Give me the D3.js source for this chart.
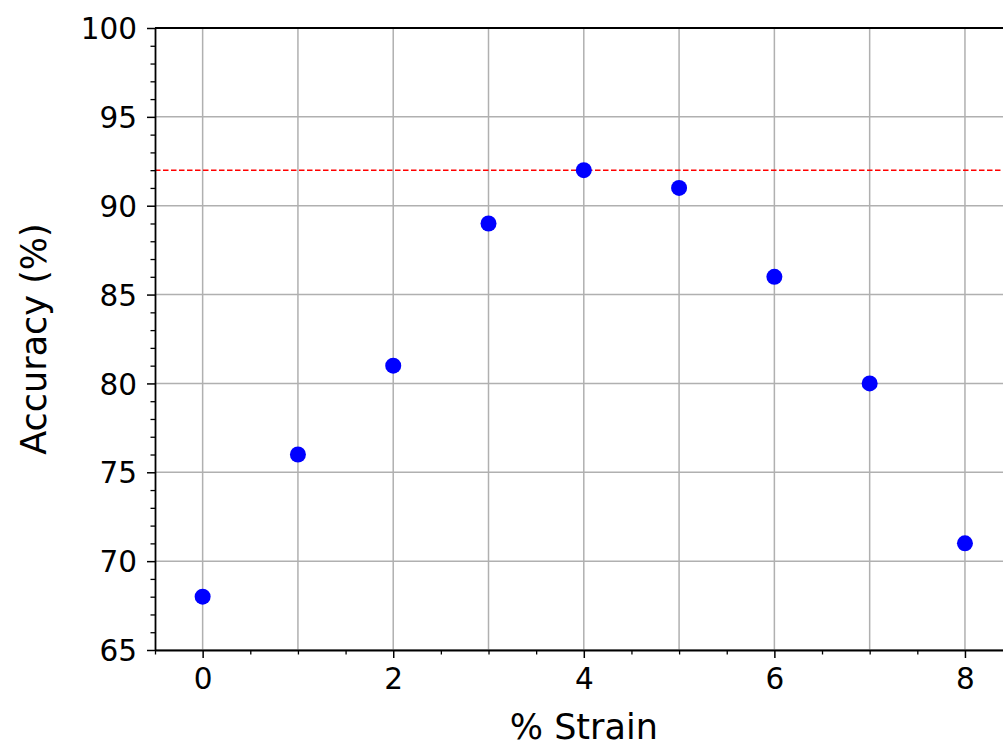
<!DOCTYPE html>
<html><head><meta charset="utf-8">
<script src="https://cdn.jsdelivr.net/npm/d3@7"></script>
<style>body{margin:0;background:#fff;} svg{display:block;} text{font-family:"DejaVu Sans",sans-serif;}</style>
</head><body><svg id="c" width="1003" height="748"></svg>
<script>
const strain = [0,1,2,3,4,5,6,7,8];
const accuracy = [68,76,81,89,92,91,86,80,71];
const refLine = 92;
const xMajorTicks = [0,2,4,6,8];
const yMajorTicks = [65,70,75,80,85,90,95,100];

const svg = d3.select("#c");
const L=155, T=28, B=650, R=1012.6;
const x = d3.scaleLinear().domain([-0.5,8.5]).range([L,R]);
const y = d3.scaleLinear().domain([65,100]).range([B,T]);

const g = svg.append("g");
// grid
g.selectAll(".gx").data(d3.range(0,9,1)).enter().append("line")
  .attr("x1",d=>x(d)).attr("x2",d=>x(d)).attr("y1",T).attr("y2",B)
  .attr("stroke","#b0b0b0").attr("stroke-width",1.5);
g.selectAll(".gy").data(yMajorTicks).enter().append("line")
  .attr("x1",L).attr("x2",R).attr("y1",d=>y(d)).attr("y2",d=>y(d))
  .attr("stroke","#b0b0b0").attr("stroke-width",1.5);

// ref line
g.append("line").attr("x1",L).attr("x2",R).attr("y1",y(refLine)).attr("y2",y(refLine))
  .attr("stroke","#ff0000").attr("stroke-width",1.5).attr("stroke-dasharray","5.5,2.5");

// points
g.selectAll("circle").data(strain).enter().append("circle")
  .attr("cx",(d)=>x(d)).attr("cy",(d,i)=>y(accuracy[i])).attr("r",8).attr("fill","#0000ff");

// axes minor
const xMinor = d3.axisBottom(x).tickValues(d3.range(-0.5,8.51,0.5).filter(v=>!xMajorTicks.includes(v))).tickSize(4.5).tickFormat("");
const yMinor = d3.axisLeft(y).tickValues(d3.range(65,101,1).filter(v=>!yMajorTicks.includes(v))).tickSize(4.5).tickFormat("");
svg.append("g").attr("transform",`translate(0,${B})`).call(xMinor).call(s=>s.select(".domain").remove()).selectAll("line").attr("stroke-width",1.3);
svg.append("g").attr("transform",`translate(${L},0)`).call(yMinor).call(s=>s.select(".domain").remove()).selectAll("line").attr("stroke-width",1.3);

const xAx = d3.axisBottom(x).tickValues(xMajorTicks).tickSize(8).tickPadding(10).tickSizeOuter(0);
const yAx = d3.axisLeft(y).tickValues(yMajorTicks).tickSize(8).tickPadding(10).tickSizeOuter(0);
const gx = svg.append("g").attr("transform",`translate(0,${B})`).call(xAx);
const gy = svg.append("g").attr("transform",`translate(${L},0)`).call(yAx);
[gx,gy].forEach(a=>{
  a.selectAll("text").attr("font-family","DejaVu Sans").attr("font-size",29.5).attr("fill","#000");
  a.selectAll("line").attr("stroke-width",1.5);
  a.select(".domain").attr("stroke-width",1.8);
});
gy.selectAll("text").attr("dy","0.36em");
// top spine
svg.append("line").attr("x1",L).attr("x2",R).attr("y1",T).attr("y2",T).attr("stroke","#000").attr("stroke-width",1.8);

svg.append("text").attr("x",x(4)).attr("y",739).attr("text-anchor","middle").attr("font-size",35).text("% Strain");
svg.append("text").attr("transform",`translate(46,${(T+B)/2}) rotate(-90)`).attr("text-anchor","middle").attr("font-size",35).text("Accuracy (%)");
</script></body></html>
